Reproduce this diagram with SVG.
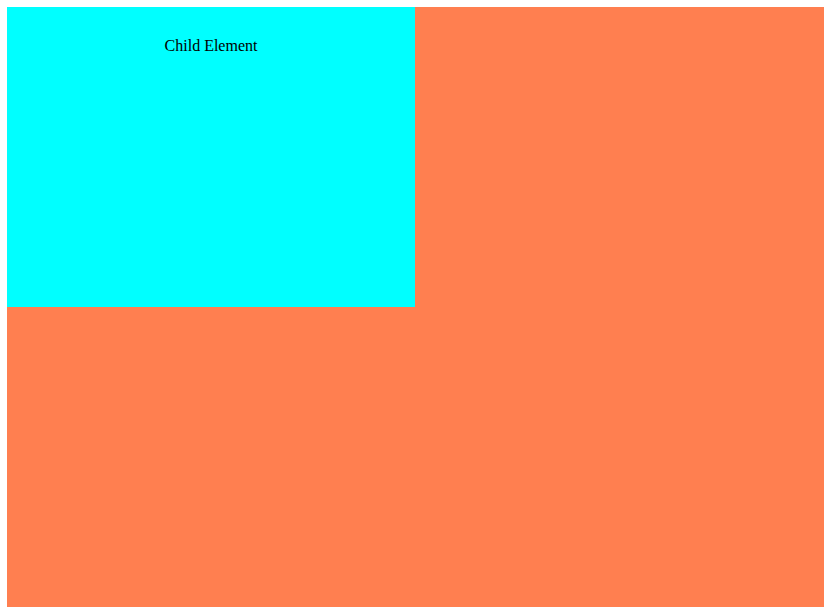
<svg xmlns="http://www.w3.org/2000/svg" width="833" height="615" viewBox="0 0 833 615">
<style>
.lbl{font-family:"Liberation Serif","Times New Roman",serif;font-size:16px;fill:#000}
</style>
<rect width="833" height="615" fill="#ffffff"/>
<g id="parent">
<rect x="7" y="7" width="817" height="600" fill="#ff7f50"/>
</g>
<g id="child">
<rect x="7" y="7" width="408" height="300" fill="#00ffff"/>
<text class="lbl" x="211" y="51" text-anchor="middle">Child Element</text>
</g>
<g id="connectors"></g>
</svg>
